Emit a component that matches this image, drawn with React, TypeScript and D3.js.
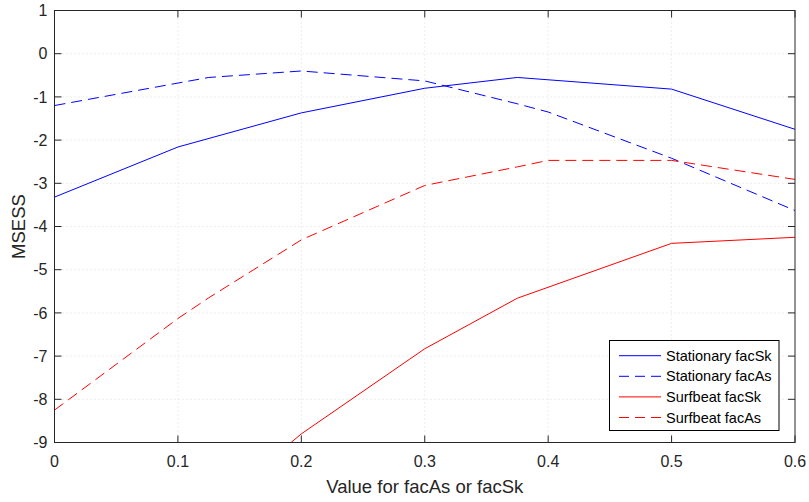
import React from "react";
import * as d3 from "d3";

// x positions used by the runs
const statSkX = [0, 0.1, 0.2, 0.3, 0.375, 0.5, 0.6];
const statSkY = [-3.32, -2.16, -1.37, -0.8, -0.55, -0.82, -1.75];

const statAsX = [0, 0.1, 0.125, 0.2, 0.3, 0.375, 0.4, 0.5, 0.6];
const statAsY = [-1.2, -0.68, -0.55, -0.4, -0.63, -1.16, -1.35, -2.42, -3.63];

const surfSkX = [0.125, 0.2, 0.3, 0.375, 0.5, 0.6];
const surfSkY = [-10.6, -8.8, -6.83, -5.66, -4.39, -4.25];

const surfAsX = [0, 0.1, 0.125, 0.2, 0.3, 0.375, 0.4, 0.5, 0.6];
const surfAsY = [-8.25, -6.13, -5.65, -4.31, -3.05, -2.62, -2.47, -2.47, -2.91];

const xTicks = [0, 0.1, 0.2, 0.3, 0.4, 0.5, 0.6];
const yTicks = [1, 0, -1, -2, -3, -4, -5, -6, -7, -8, -9];

const seriesNames = ["Stationary facSk", "Stationary facAs", "Surfbeat facSk", "Surfbeat facAs"];
const seriesColors = ["#0000ff", "#0000ff", "#ff0000", "#ff0000"];
const seriesDashed = [false, true, false, true];

const W = 809;
const H = 502;
const left = 54.5;
const right = 795;
const top = 10.5;
const bottom = 442.5;
const font = "'Liberation Sans', Arial, Helvetica, sans-serif";
const axisColor = "#262626";
const tickLen = 7;

function App() {
  const x = d3.scaleLinear().domain([0, 0.6]).range([left, right]);
  const y = d3.scaleLinear().domain([-9, 1]).range([bottom, top]);

  const line = d3
    .line<[number, number]>()
    .x((d) => x(d[0]))
    .y((d) => y(d[1]));

  const series = [
    d3.zip(statSkX, statSkY),
    d3.zip(statAsX, statAsY),
    d3.zip(surfSkX, surfSkY),
    d3.zip(surfAsX, surfAsY),
  ] as [number, number][][];

  const fmt = (v: number) => (v === 0 ? "0" : String(v));

  return (
    <svg
      width={W}
      height={H}
      style={{ position: "absolute", left: 0, top: 0, background: "#fff" }}
      fontFamily={font}
    >
      <defs>
        <clipPath id="plot">
          <rect x={left} y={top} width={right - left} height={bottom - top} />
        </clipPath>
      </defs>
      <rect x={left} y={top} width={right - left} height={bottom - top} fill="#fff" />

      {/* grid */}
      <g stroke="#dcdcdc" strokeWidth={1} strokeDasharray="1,3">
        {xTicks.slice(1, -1).map((t) => (
          <line key={"gx" + t} x1={x(t)} x2={x(t)} y1={top} y2={bottom} />
        ))}
        {yTicks.slice(1, -1).map((t) => (
          <line key={"gy" + t} x1={left} x2={right} y1={y(t)} y2={y(t)} />
        ))}
      </g>

      {/* data */}
      <g clipPath="url(#plot)" fill="none">
        {series.map((s, i) => (
          <path
            key={seriesNames[i]}
            d={line(s) || ""}
            stroke={seriesColors[i]}
            strokeWidth={1}
            strokeDasharray={seriesDashed[i] ? "11,6" : undefined}
          />
        ))}
      </g>

      {/* box and ticks */}
      <g stroke={axisColor} strokeWidth={1} fill="none">
        <rect x={left} y={top} width={right - left} height={bottom - top} />
        {xTicks.map((t) => (
          <g key={"tx" + t}>
            <line x1={x(t)} x2={x(t)} y1={bottom} y2={bottom - tickLen} />
            <line x1={x(t)} x2={x(t)} y1={top} y2={top + tickLen} />
          </g>
        ))}
        {yTicks.map((t) => (
          <g key={"ty" + t}>
            <line x1={left} x2={left + tickLen} y1={y(t)} y2={y(t)} />
            <line x1={right} x2={right - tickLen} y1={y(t)} y2={y(t)} />
          </g>
        ))}
      </g>

      {/* tick labels */}
      <g fill={axisColor} fontSize={16}>
        {xTicks.map((t) => (
          <text key={"lx" + t} x={x(t)} y={bottom + 24} textAnchor="middle">
            {fmt(t)}
          </text>
        ))}
        {yTicks.map((t) => (
          <text key={"ly" + t} x={left - 7} y={y(t)} dy="0.35em" textAnchor="end">
            {fmt(t)}
          </text>
        ))}
      </g>

      {/* axis labels */}
      <text
        x={(left + right) / 2}
        y={493}
        textAnchor="middle"
        fontSize={18.5}
        fill={axisColor}
      >
        Value for facAs or facSk
      </text>
      <text
        transform={`translate(25,${(top + bottom) / 2}) rotate(-90)`}
        textAnchor="middle"
        fontSize={18.5}
        fill={axisColor}
      >
        MSESS
      </text>

      {/* legend */}
      <g>
        <rect x={609.5} y={340.5} width={169.5} height={90} fill="#fff" stroke="#000" strokeWidth={1} />
        {seriesNames.map((n, i) => {
          const ly = 355.7 + i * 20.6;
          return (
            <g key={"lg" + n}>
              <line
                x1={619}
                x2={661}
                y1={ly}
                y2={ly}
                stroke={seriesColors[i]}
                strokeWidth={1}
                strokeDasharray={seriesDashed[i] ? "10,6" : undefined}
              />
              <text x={666} y={ly} dy="0.35em" fontSize={14.5} fill="#000">
                {n}
              </text>
            </g>
          );
        })}
      </g>
    </svg>
  );
}

export default App;
